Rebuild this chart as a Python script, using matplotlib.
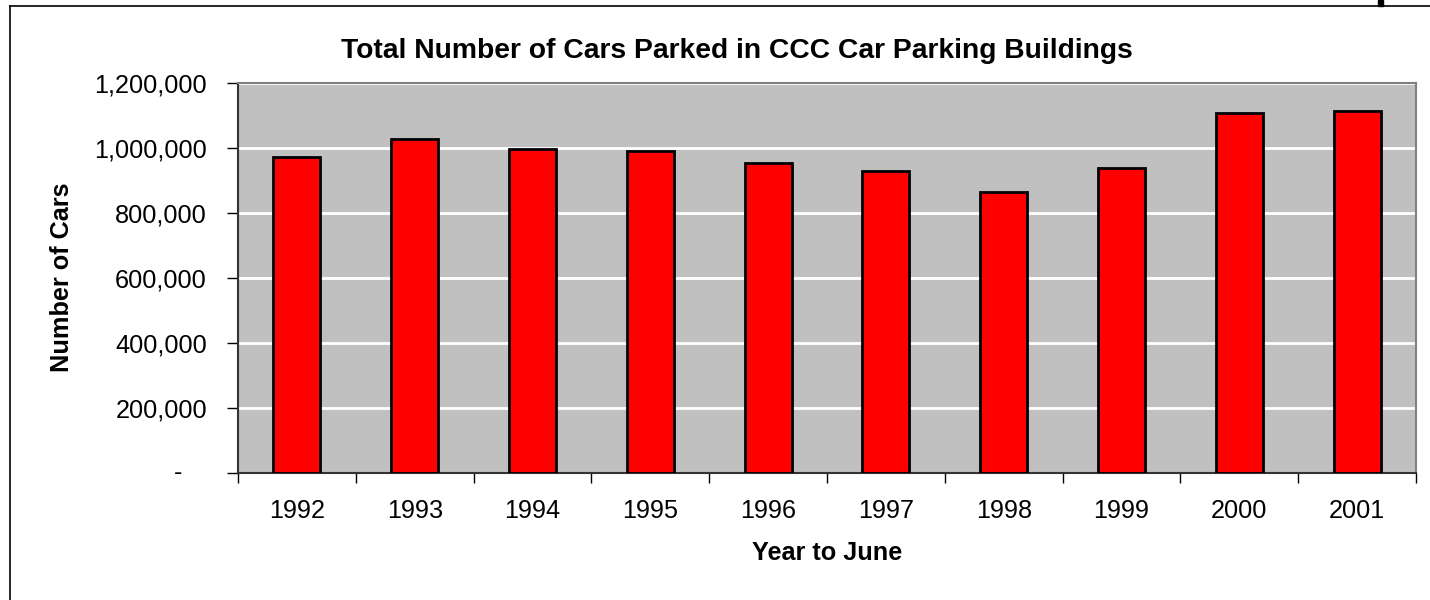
import matplotlib
matplotlib.use("Agg")
import matplotlib.pyplot as plt
from matplotlib.lines import Line2D
from matplotlib.patches import Rectangle
from matplotlib.ticker import FuncFormatter, FixedLocator

plt.rcParams['font.family'] = ['Liberation Sans', 'DejaVu Sans']

years = ['1992', '1993', '1994', '1995', '1996', '1997', '1998', '1999', '2000', '2001']
cars = [971000, 1028000, 998000, 990000, 954000, 930000, 866000, 940000, 1107000, 1115000]
yticks = [0, 200000, 400000, 600000, 800000, 1000000, 1200000]

W, H = 1430, 600
fig = plt.figure(figsize=(W / 100, H / 100), dpi=100)
fig.patch.set_facecolor('white')

ax = fig.add_axes([238 / W, 1 - 473 / H, 1178 / W, 390 / H])
ax.set_facecolor('#c0c0c0')

x = list(range(len(years)))
ax.bar(x, cars, width=0.4, color='#ff0000', edgecolor='black', linewidth=2, zorder=3)

ax.set_xlim(-0.5, len(years) - 0.5)
ax.set_ylim(0, 1200000)

ax.set_yticks(yticks)
ax.yaxis.set_major_formatter(FuncFormatter(lambda v, p: '' if v == 0 else f'{int(v):,}'))
ax.grid(axis='y', color='white', linewidth=2, zorder=1)
ax.set_axisbelow(True)

# category labels between boundary ticks
ax.xaxis.set_major_locator(FixedLocator([i - 0.5 for i in range(len(years) + 1)]))
ax.xaxis.set_minor_locator(FixedLocator(x))
ax.set_xticklabels([])
ax.set_xticklabels(years, minor=True)
ax.tick_params(axis='x', which='major', direction='out', length=7, width=1, color='black')
ax.tick_params(axis='x', which='minor', length=0, pad=19, labelsize=18.2)
ax.tick_params(axis='y', direction='out', length=8, width=1, pad=14.4, labelsize=18.2)

ax.annotate('-', xy=(0, 0), xycoords=('axes fraction', 'data'), xytext=(-60, 0),
            textcoords='offset pixels', ha='center', va='center', fontsize=18.2)

for s in ['top', 'right']:
    ax.spines[s].set_color('#808080')
    ax.spines[s].set_linewidth(1.5)
for s in ['left', 'bottom']:
    ax.spines[s].set_color('#333333')
    ax.spines[s].set_linewidth(1.5)

fig.text(737 / W, 1 - 51 / H, 'Total Number of Cars Parked in CCC Car Parking Buildings',
         ha='center', va='center', fontsize=20.3, fontweight='bold')
fig.text(827 / W, 1 - 553 / H, 'Year to June', ha='center', va='center',
         fontsize=18.2, fontweight='bold')
fig.text(62 / W, 1 - 277 / H, 'Number of Cars', ha='center', va='center',
         rotation=90, fontsize=18.2, fontweight='bold')

# outer chart frame (cropped)
fig.add_artist(Line2D([9.5 / W, 9.5 / W], [0, 1 - 5.5 / H], transform=fig.transFigure,
                      color='black', linewidth=1.2))
fig.add_artist(Line2D([9.5 / W, 1], [1 - 5.5 / H, 1 - 5.5 / H], transform=fig.transFigure,
                      color='black', linewidth=1.2))
fig.add_artist(Rectangle((1378 / W, 1 - 6 / H), 5 / W, 6 / H, transform=fig.transFigure,
                         color='black'))

fig.savefig('out.png', dpi=100)
